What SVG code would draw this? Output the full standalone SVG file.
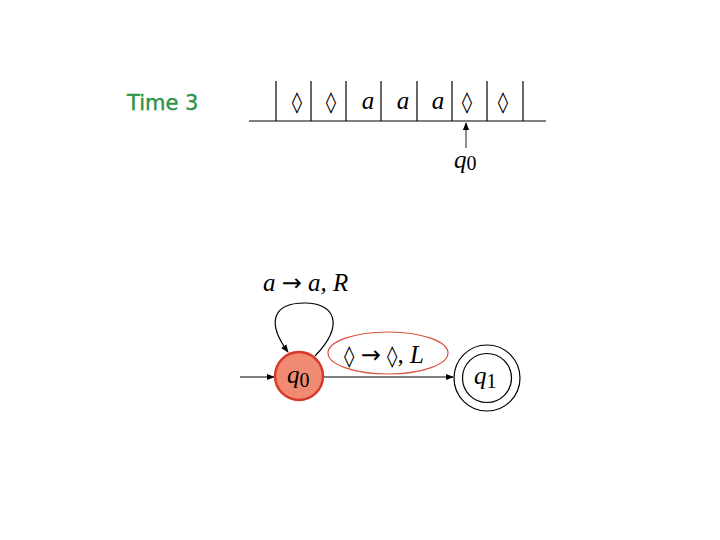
<svg xmlns="http://www.w3.org/2000/svg" width="720" height="540" viewBox="0 0 720 540">
<defs>
<marker id="ah" viewBox="0 0 10 10" refX="9" refY="5" markerWidth="8" markerHeight="8" orient="auto-start-reverse" markerUnits="userSpaceOnUse">
<path d="M0,1 L10,5 L0,9 z" fill="#000"/>
</marker>
<style>
.ln{stroke:#000;stroke-width:1.2;fill:none}
.sym{font-family:"DejaVu Serif","Liberation Serif",serif;font-size:21px;fill:#000;text-anchor:middle}
.it{font-family:"Liberation Serif",serif;font-style:italic;font-size:25px;fill:#000}
.sub{font-family:"Liberation Serif",serif;font-style:normal;font-size:20px}
.arr{font-family:"DejaVu Sans",sans-serif;font-style:normal;font-size:24px}
.dia{font-family:"DejaVu Serif",serif;font-style:normal;font-size:21px}
</style>
</defs>
<rect width="720" height="540" fill="#fff"/>
<text x="127" y="110" font-family="'Comic Sans MS','DejaVu Sans',sans-serif" font-size="21" fill="#2e9444" stroke="#2e9444" stroke-width="0.4">Time 3</text>
<g id="tape">
<line class="ln" x1="249" y1="121" x2="546" y2="121"/>
<g class="ln">
<line x1="276" y1="81" x2="276" y2="121"/>
<line x1="311" y1="81" x2="311" y2="121"/>
<line x1="346" y1="81" x2="346" y2="121"/>
<line x1="381" y1="81" x2="381" y2="121"/>
<line x1="417" y1="81" x2="417" y2="121"/>
<line x1="452" y1="81" x2="452" y2="121"/>
<line x1="487" y1="81" x2="487" y2="121"/>
<line x1="523" y1="81" x2="523" y2="121"/>
</g>
<text class="sym" x="297" y="109">◊</text>
<text class="sym" x="331" y="109">◊</text>
<text class="it" x="368" y="109" text-anchor="middle">a</text>
<text class="it" x="403" y="109" text-anchor="middle">a</text>
<text class="it" x="438" y="109" text-anchor="middle">a</text>
<text class="sym" x="467" y="109">◊</text>
<text class="sym" x="503" y="109">◊</text>
<line x1="466" y1="148" x2="466" y2="123" stroke="#444" stroke-width="1.2" marker-end="url(#ah)"/>
<text x="454" y="168" class="it" font-size="28">q<tspan class="sub" font-size="22" dy="2">0</tspan></text>
</g>
<g id="connectors">
<line class="ln" x1="240" y1="377" x2="274" y2="377" marker-end="url(#ah)"/>
<path class="ln" d="M315,356 C345,325 335,303 305,303 C270,303 268,325 288,352" marker-end="url(#ah)"/>
<line class="ln" x1="323" y1="377" x2="453" y2="377" marker-end="url(#ah)"/>
<text class="it" x="263" y="291">a <tspan class="arr">→</tspan> a, R</text>
<ellipse cx="388" cy="353" rx="60" ry="21" fill="none" stroke="#d9533f" stroke-width="1.2"/>
<text class="it" x="344" y="363"><tspan class="dia">◊</tspan> <tspan class="arr">→</tspan> <tspan class="dia">◊</tspan>, L</text>
</g>
<g id="q0">
<circle cx="299" cy="376" r="24" fill="#f08a72" stroke="#d83a2a" stroke-width="2.5"/>
<text x="287" y="383" class="it" font-size="27">q<tspan class="sub" dy="4">0</tspan></text>
</g>
<g id="q1">
<circle cx="487" cy="378" r="33" class="ln"/>
<circle cx="487" cy="378" r="24.5" class="ln"/>
<text x="474" y="384" class="it" font-size="27">q<tspan class="sub" dy="4">1</tspan></text>
</g>
</svg>
